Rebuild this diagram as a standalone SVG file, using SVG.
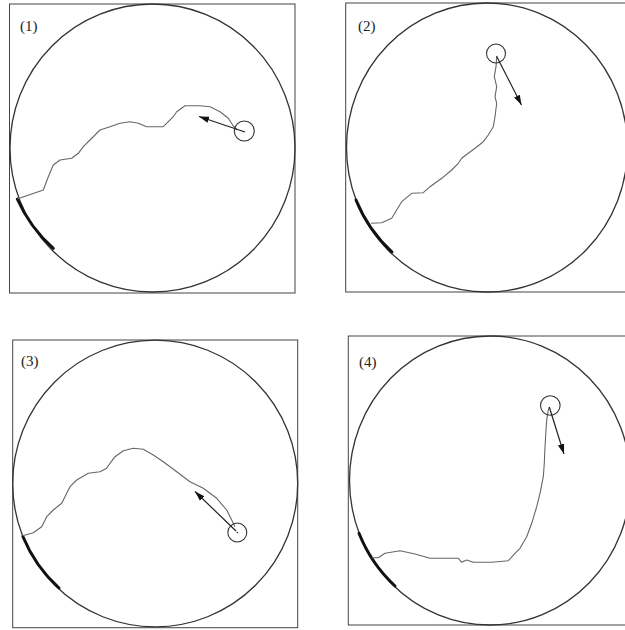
<svg xmlns="http://www.w3.org/2000/svg" width="625" height="630" viewBox="0 0 625 630">
  <style>
    .frame { fill: none; stroke: #444; stroke-width: 1; }
    .arena { fill: none; stroke: #333; stroke-width: 1.3; }
    .track { fill: none; stroke: #666; stroke-width: 1.1; stroke-linejoin: round; }
    .goal { fill: none; stroke: #111; stroke-width: 3; stroke-linecap: round; }
    .ring { fill: none; stroke: #333; stroke-width: 1.1; }
    .heading { fill: none; stroke: #222; stroke-width: 1.2; marker-end: url(#head); }
    .label { font-family: "Liberation Serif", "Times New Roman", serif; font-size: 15px; fill: #222; }
  </style>
  <defs>
    <marker id="head" markerUnits="userSpaceOnUse" markerWidth="12" markerHeight="8" refX="10" refY="4" orient="auto">
      <path d="M0,0.8 L10,4 L0,7.2 Z" fill="#111"/>
    </marker>
  </defs>
  <rect width="625" height="630" fill="#fff"/>

  <g id="panel1">
    <rect class="frame" x="9.5" y="4" width="285.5" height="289"/>
    <ellipse class="arena" cx="152.5" cy="148" rx="142.5" ry="144"/>
    <path class="goal" d="M17.3,199 A142.5,144 0 0 0 53.3,248.3"/>
    <path class="track" d="M17.3,199 L43.3,190 L48.3,176.7 L53.3,165 L60,160 L71.7,158.3 L78.3,153.3 L83.3,146.7 L90,140 L100,130 L110,126.7 L120,123.3 L130,121.7 L138.3,123.3 L146.7,126.7 L163.3,126.7 L173.3,116.7 L176.7,111.7 L185,105.7 L200,105.7 L210,106.7 L220,111.7 L228.3,118.3 L233.3,126 L237.3,130"/>
    <circle class="ring" cx="244.3" cy="131" r="10"/>
    <line class="heading" x1="245" y1="132" x2="199" y2="116.5"/>
    <text class="label" x="20" y="31">(1)</text>
  </g>

  <g id="panel2">
    <rect class="frame" x="345.7" y="3" width="300" height="289"/>
    <ellipse class="arena" cx="487" cy="147.5" rx="140.5" ry="144.5"/>
    <path class="goal" d="M356,200 A140.5,144.5 0 0 0 392,252"/>
    <path class="track" d="M371,223.3 L381.7,222.7 L391.7,218.3 L396.7,210 L401.7,201.7 L411.7,193.3 L423.3,192.7 L430,186.7 L441.7,178.3 L451.7,170 L458.3,163.3 L461.7,158.3 L468.3,153.3 L475,148.3 L483.3,141.7 L488.3,135 L493.3,126.7 L495,116.7 L496.7,103.3 L495,96.7 L496.7,86.7 L494.3,76.7 L496,66.7 L496.7,57"/>
    <circle class="ring" cx="496" cy="53.5" r="9.5"/>
    <line class="heading" x1="496.5" y1="56" x2="521.5" y2="105"/>
    <text class="label" x="358" y="31">(2)</text>
  </g>

  <g id="panel3">
    <rect class="frame" x="12.7" y="340" width="285" height="287.7"/>
    <ellipse class="arena" cx="155.2" cy="483.5" rx="142.5" ry="143.3"/>
    <path class="goal" d="M23,536.7 A142.5,143.3 0 0 0 59,588"/>
    <path class="track" d="M22.7,535.7 L33.3,532.7 L41.7,526.7 L46.7,516.7 L53.3,510 L61.7,503.3 L66.7,493.3 L70,486.7 L76.7,480 L88.3,473.3 L100,471.7 L106.7,468.3 L110,463.3 L115,456.7 L123.3,450.7 L133.3,448.3 L143.3,449.3 L153.3,455 L163.3,461.7 L176.7,471.7 L190,481.7 L203.3,488.3 L216.7,498.3 L226.7,510 L231.7,520 L235,526.7"/>
    <circle class="ring" cx="237.3" cy="532.5" r="9.5"/>
    <circle cx="237.3" cy="532.5" r="0.8" fill="#222"/>
    <line class="heading" x1="236" y1="531" x2="195" y2="491.5"/>
    <text class="label" x="21" y="366">(3)</text>
  </g>

  <g id="panel4">
    <rect class="frame" x="348.3" y="336" width="300" height="289"/>
    <ellipse class="arena" cx="490" cy="480.5" rx="140.5" ry="144.5"/>
    <path class="goal" d="M359,533.3 A140.5,144.5 0 0 0 395,586"/>
    <path class="track" d="M371.7,557.7 L378.3,557.7 L385,553.3 L400,550.7 L415,554 L430,558.3 L448.3,558.3 L458.3,558.3 L461.7,562.3 L466.7,560 L473.3,562.3 L491.7,562.3 L508.3,560.7 L515,553.3 L520,548.3 L526.7,536.7 L531.7,523.3 L536.7,506.7 L540,493.3 L543.3,476.7 L544.3,463.3 L545,446.7 L546,430 L546.7,420 L548.3,410 L549.3,407.3"/>
    <circle class="ring" cx="550.3" cy="405.5" r="9.8"/>
    <line class="heading" x1="549.3" y1="407" x2="564" y2="454"/>
    <text class="label" x="359" y="367">(4)</text>
  </g>
</svg>
